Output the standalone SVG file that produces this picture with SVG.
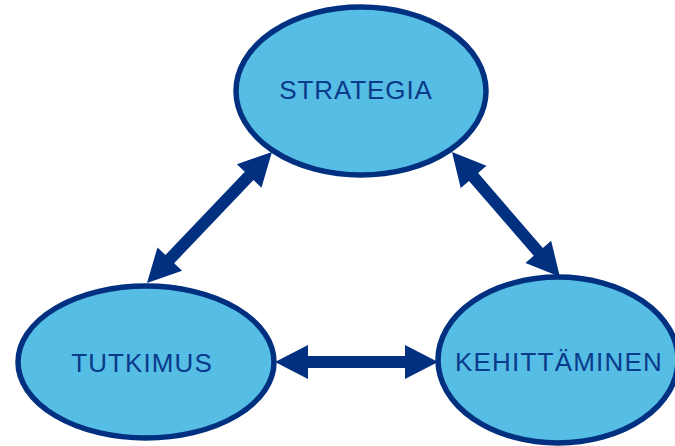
<svg xmlns="http://www.w3.org/2000/svg" width="675" height="446" viewBox="0 0 675 446">
<style>
.node ellipse{fill:#56bde4;stroke:#00307f;stroke-width:5.5}
.node text{font-family:"Liberation Sans",Arial,sans-serif;font-size:26px;fill:#0a3a8a;text-anchor:middle}
.arrow{fill:#00307f}
</style>
<rect width="675" height="446" fill="#fff"/>
<g id="connectors">
<polygon class="arrow" transform="translate(147,283) rotate(-46.35)" points="0,0 33,-17 33,-6 148,-6 148,-17 181,0 148,17 148,6 33,6 33,17"/>
<polygon class="arrow" transform="translate(452,152) rotate(49.17)" points="0,0 33,-17 33,-6 132,-6 132,-17 165,0 132,17 132,6 33,6 33,17"/>
<polygon class="arrow" transform="translate(275,362)" points="0,0 33,-17 33,-6 130,-6 130,-17 163,0 130,17 130,6 33,6 33,17"/>
</g>
<g id="strategia" class="node">
<ellipse cx="361" cy="91" rx="125" ry="84"/>
<text x="356" y="99" letter-spacing="0.9">STRATEGIA</text>
</g>
<g id="tutkimus" class="node">
<ellipse cx="146" cy="362" rx="128" ry="76"/>
<text x="142" y="372" letter-spacing="1.1">TUTKIMUS</text>
</g>
<g id="kehittaminen" class="node">
<ellipse cx="558" cy="360" rx="120" ry="83"/>
<text x="559" y="371" letter-spacing="1.2">KEHITTÄMINEN</text>
</g>
</svg>
